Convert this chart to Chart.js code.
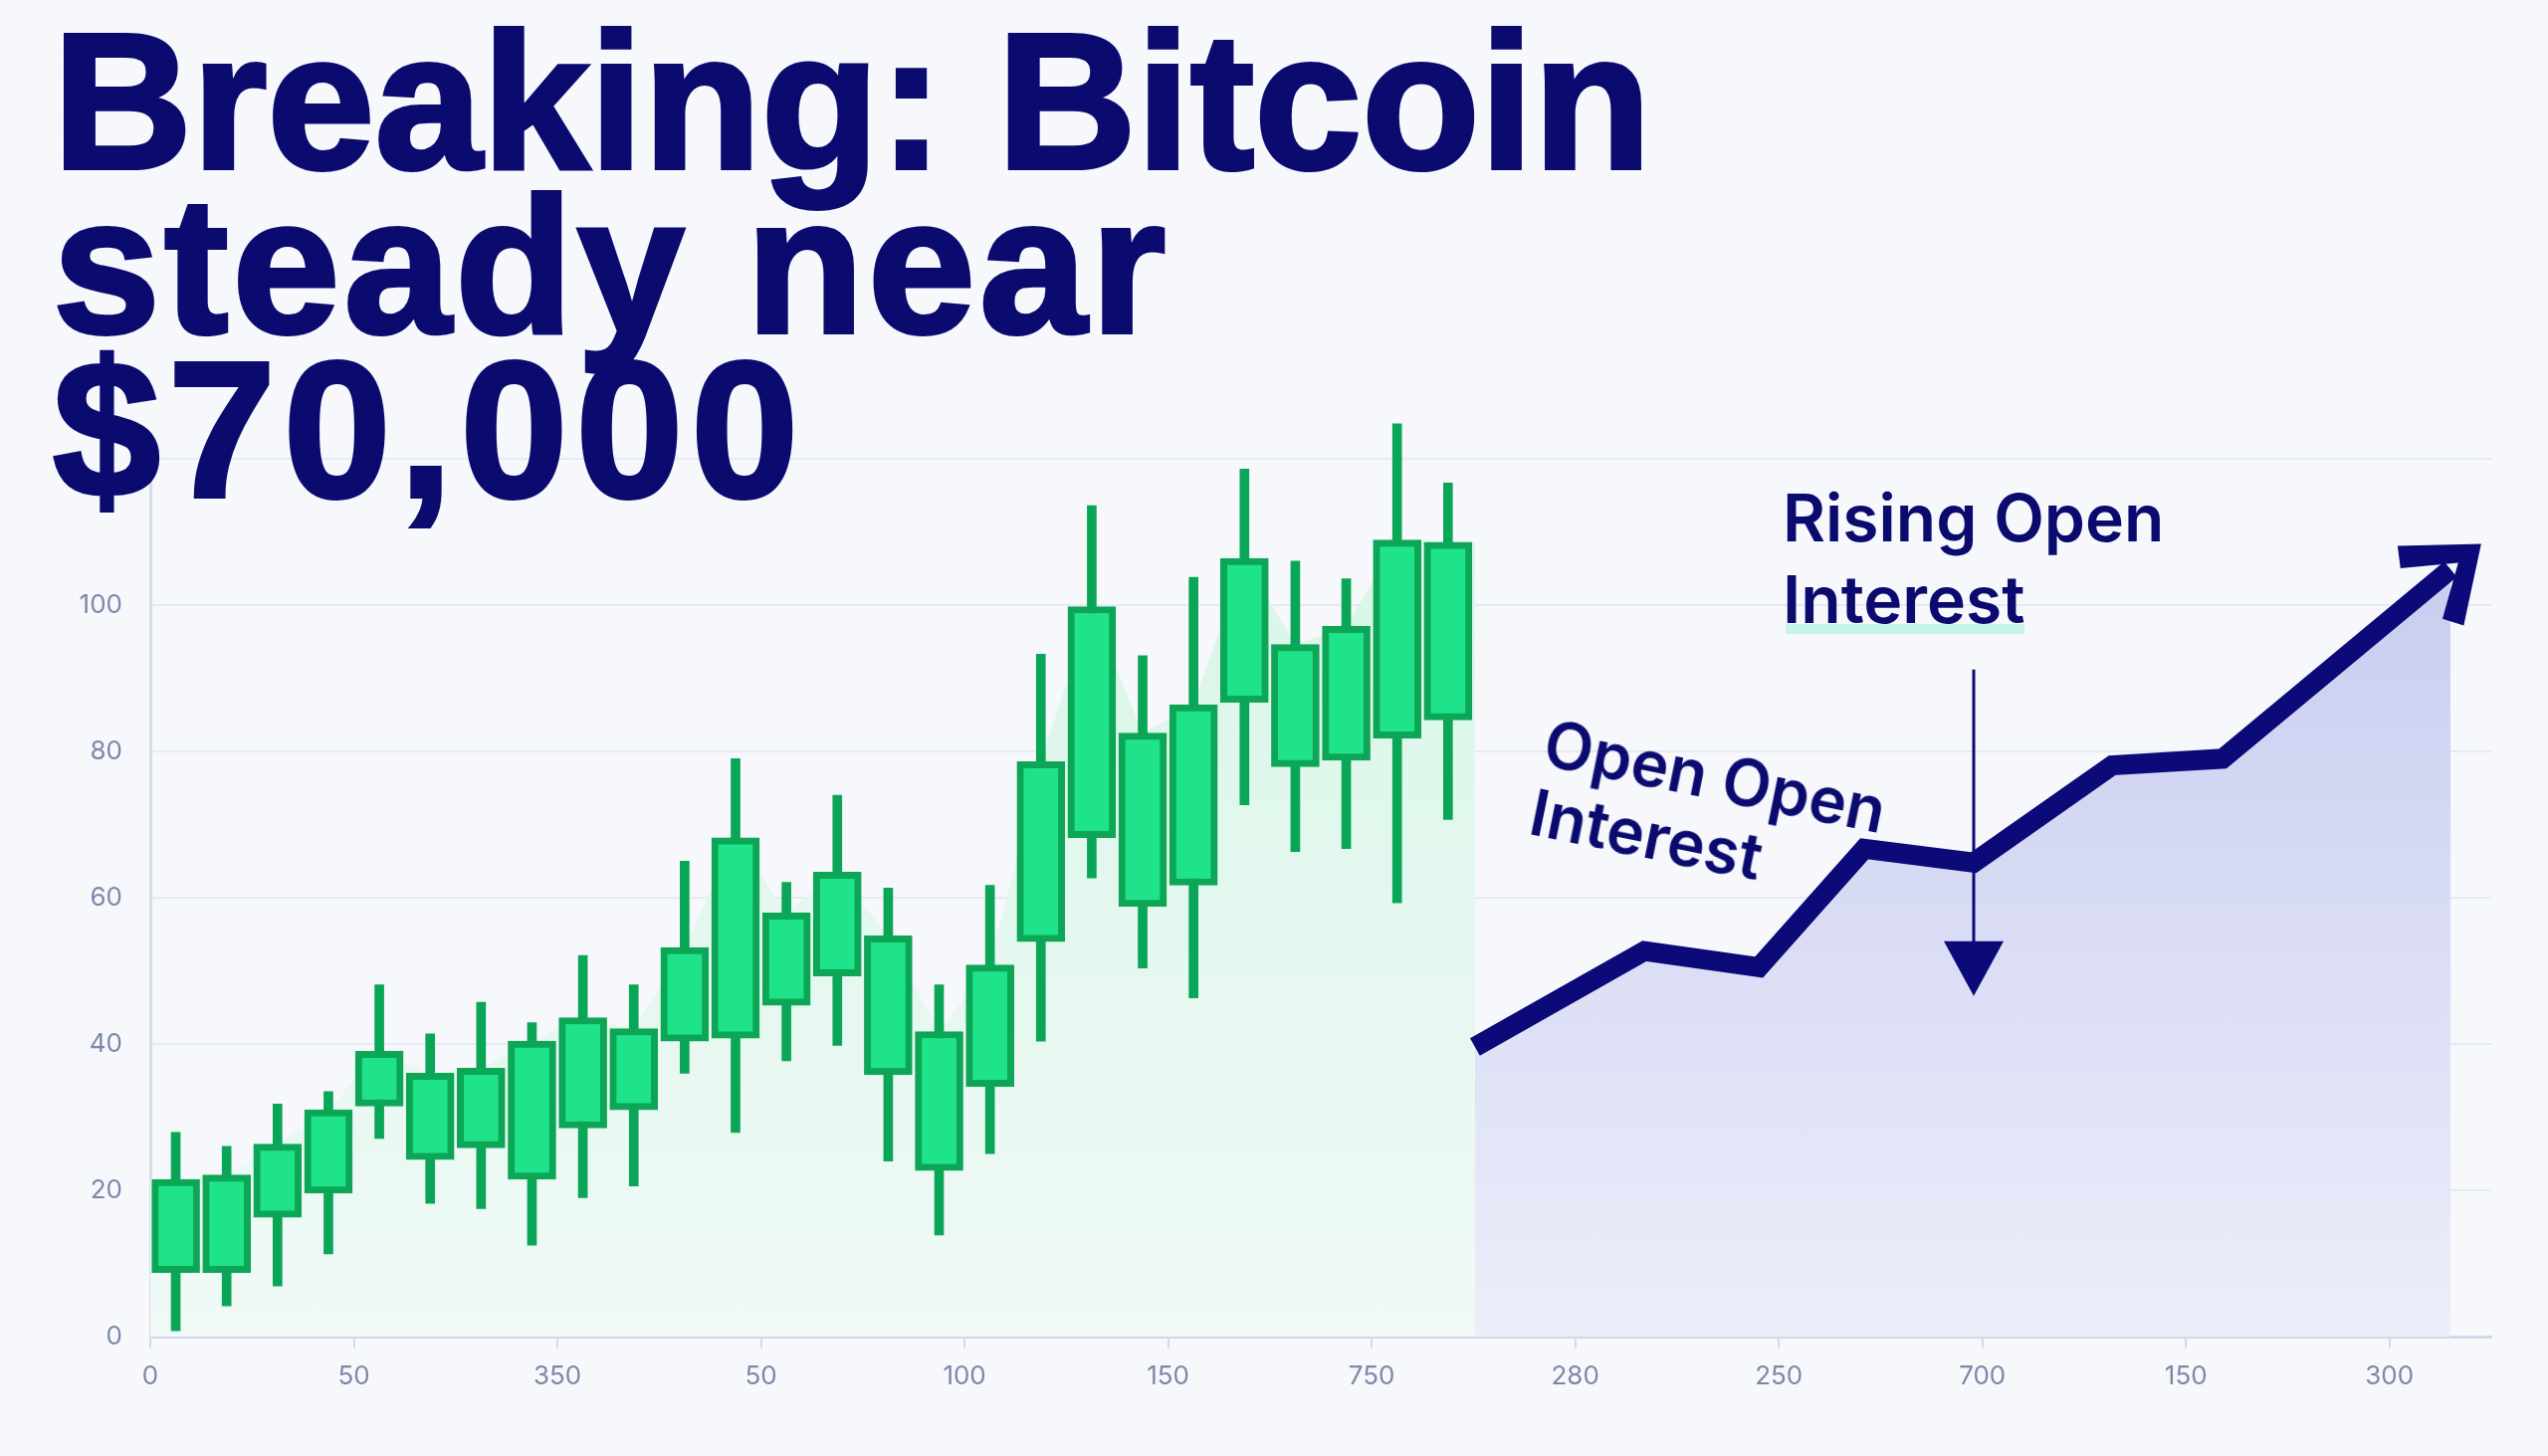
<!DOCTYPE html>
<html>
<head>
<meta charset="utf-8">
<script src="https://cdn.jsdelivr.net/npm/chart.js@4.4.1/dist/chart.umd.min.js"></script>
<style>
html,body{margin:0;padding:0;background:#f6f8fc;}
#wrap{position:relative;width:2560px;height:1463px;overflow:hidden;background:#f6f8fc;}
#c{position:absolute;left:0;top:0;}
.title{position:absolute;left:53px;top:19px;margin:0;font-family:'Liberation Sans',Arial,sans-serif;font-weight:700;font-size:194px;line-height:165px;color:#0b0b6f;white-space:nowrap;-webkit-text-stroke:4px #0b0b6f;}
.title div{display:block;}
.note{position:absolute;font-family:Inter,'Noto Sans',sans-serif;font-weight:600;color:#0b0b6f;white-space:nowrap;}
#rising{left:1791px;top:479px;font-size:66px;line-height:82px;}
#mint{position:absolute;left:1794px;top:627px;width:240px;height:10px;background:rgba(160,240,215,0.55);}
#oi{left:1548px;top:709px;font-size:64px;line-height:71px;transform:rotate(11.5deg);transform-origin:0 59px;}
</style>
</head>
<body>
<div id="wrap">
  <canvas id="c" width="2560" height="1463"></canvas>
  <h1 class="title"><div>Breaking: Bitcoin</div><div style="letter-spacing:4px">steady near</div><div style="letter-spacing:8px">$70,000</div></h1>
  <div id="mint"></div>
  <div class="note" id="rising">Rising Open<br>Interest</div>
  <div class="note" id="oi">Open Open<br>Interest</div>
</div>
<script>
// ---- data ----
const xTickValues = [0, 4, 8, 12, 16, 20, 24, 28, 32, 36, 40, 44];
const xTickLabels = ['0', '50', '350', '50', '100', '150', '750', '280', '250', '700', '150', '300'];
const yTickValues = [0, 20, 40, 60, 80, 100, 120];

const candleSlots = [0.5, 1.5, 2.5, 3.5, 4.5, 5.5, 6.5, 7.5, 8.5, 9.5, 10.5, 11.5, 12.5,
                     13.5, 14.5, 15.5, 16.5, 17.5, 18.5, 19.5, 20.5, 21.5, 22.5, 23.5, 24.5, 25.5];
const candleOpen  = [8.75, 8.75, 16.3, 19.6, 31.5, 24.2, 25.8, 21.5, 28.5, 31.0, 40.4, 40.8, 45.3,
                     49.3, 35.8, 22.7, 34.2, 54.0, 68.2, 58.8, 61.7, 86.7, 77.9, 78.8, 81.8, 84.3];
const candleClose = [21.5, 22.1, 26.3, 31.0, 39.0, 36.0, 36.7, 40.4, 43.6, 42.1, 53.2, 68.2, 57.9,
                     63.5, 54.8, 41.7, 50.8, 78.6, 99.8, 82.5, 86.4, 106.4, 94.6, 97.1, 108.9, 108.6];
const candleHigh  = [27.9, 26.0, 31.8, 33.5, 48.1, 41.4, 45.7, 42.9, 52.1, 48.1, 65.0, 79.0, 62.1,
                     74.0, 61.3, 48.1, 61.7, 93.3, 113.6, 93.1, 103.8, 118.6, 106.0, 103.6, 124.8, 116.7];
const candleLow   = [0.8, 4.2, 6.9, 11.3, 27.1, 18.2, 17.5, 12.5, 19.0, 20.6, 36.0, 27.9, 37.7,
                     39.8, 24.0, 13.9, 25.0, 40.4, 62.7, 50.4, 46.3, 72.7, 66.3, 66.7, 59.3, 70.7];

const oiX      = [26.03, 29.36, 31.61, 33.68, 35.83, 38.55, 40.72, 45.2];
const oiValues = [39.6, 52.7, 50.5, 66.7, 64.8, 78.1, 79.0, 104.9];

// ---- helpers ----
function vGrad(chart, c0, c1) {
  const {ctx, chartArea} = chart;
  if (!chartArea) return c0;
  const g = ctx.createLinearGradient(0, chartArea.top, 0, chartArea.bottom);
  g.addColorStop(0, c0);
  g.addColorStop(1, c1);
  return g;
}
const NAVY = '#0b0a78';

const greenArea = [{x: 0, y: candleClose[0]}]
  .concat(candleSlots.map((x, i) => ({x, y: candleClose[i]})))
  .concat([{x: oiX[0], y: candleClose[candleClose.length - 1]}]);

const arrowPlugin = {
  id: 'arrows',
  afterDatasetsDraw(chart) {
    const ctx = chart.ctx;
    const meta = chart.getDatasetMeta(2);
    const pts = meta.data;
    const a = pts[pts.length - 2], b = pts[pts.length - 1];
    const dx = b.x - a.x, dy = b.y - a.y, L = Math.hypot(dx, dy);
    const ux = dx / L, uy = dy / L, nx = -uy, ny = ux;
    const tx = b.x + ux * 40, ty = b.y + uy * 40;
    const P = (u, n) => [tx + ux * u + nx * n, ty + uy * u + ny * n];
    const poly = [P(0, 0), P(-66, -52), P(-78, -33), P(-30, 0), P(-78, 33), P(-66, 52)];
    ctx.save();
    ctx.fillStyle = NAVY;
    ctx.beginPath();
    poly.forEach((p, i) => i ? ctx.lineTo(p[0], p[1]) : ctx.moveTo(p[0], p[1]));
    ctx.closePath();
    ctx.fill();
    // vertical annotation arrow at the dip point
    const d = pts[4];
    const top = d.y - 194, tip = d.y + 134;
    ctx.strokeStyle = NAVY;
    ctx.lineWidth = 3;
    ctx.beginPath();
    ctx.moveTo(d.x, top);
    ctx.lineTo(d.x, tip - 50);
    ctx.stroke();
    ctx.beginPath();
    ctx.moveTo(d.x - 30, tip - 55);
    ctx.lineTo(d.x + 30, tip - 55);
    ctx.lineTo(d.x, tip);
    ctx.closePath();
    ctx.fill();
    ctx.restore();
  }
};

Chart.defaults.font.family = 'Inter, "Noto Sans", sans-serif';

new Chart(document.getElementById('c'), {
  type: 'bar',
  data: {
    datasets: [
      {
        type: 'bar', label: 'Body',
        data: candleSlots.map((x, i) => ({x, y: [candleOpen[i], candleClose[i]]})),
        backgroundColor: '#1fe38b', borderColor: '#0ca656', borderWidth: 7, borderSkipped: false,
        barThickness: 48, grouped: false, order: 0, clip: false
      },
      {
        type: 'bar', label: 'Wick',
        data: candleSlots.map((x, i) => ({x, y: [candleLow[i], candleHigh[i]]})),
        backgroundColor: '#0aa657', borderWidth: 0,
        barThickness: 9, grouped: false, order: 1, clip: false
      },
      {
        type: 'line', label: 'Open Interest',
        data: oiX.map((x, i) => ({x, y: oiValues[i]})),
        borderColor: NAVY, borderWidth: 20, borderJoinStyle: 'miter', borderCapStyle: 'butt',
        pointRadius: 0, tension: 0, fill: 'origin',
        backgroundColor: c => vGrad(c.chart, '#c4c8ee', '#eceefa'),
        order: 2, clip: false
      },
      {
        type: 'line', label: 'Price area',
        data: greenArea,
        borderWidth: 0, pointRadius: 0, tension: 0, fill: 'origin',
        backgroundColor: c => vGrad(c.chart, '#d6f6e6', '#f0f9f6'),
        order: 3
      }
    ]
  },
  options: {
    responsive: false,
    devicePixelRatio: 1,
    animation: false,
    layout: {padding: {top: 461, right: 57, left: 0, bottom: 0}},
    plugins: {legend: {display: false}, tooltip: {enabled: false}, title: {display: false}},
    scales: {
      x: {
        type: 'linear', min: 0, max: 46, offset: false,
        afterFit: s => { s.height = 120; },
        afterBuildTicks: s => { s.ticks = xTickValues.map(v => ({value: v})); },
        grid: {drawOnChartArea: false, offset: false, drawTicks: true, tickLength: 12, color: '#d3dbea', lineWidth: 2},
        border: {display: true, color: '#d0d9ea', width: 3},
        ticks: {padding: 13, color: '#7d88a9', font: {size: 26}, maxRotation: 0, autoSkip: false,
                callback: (v, i) => xTickLabels[i]}
      },
      y: {
        type: 'linear', min: 0, max: 120,
        afterFit: s => { s.width = 151; },
        afterBuildTicks: s => { s.ticks = yTickValues.map(v => ({value: v})); },
        grid: {color: '#e5eaf3', lineWidth: 2, drawTicks: false},
        border: {display: true, color: '#d5dcea', width: 3},
        ticks: {padding: 28, color: '#7d88a9', font: {size: 26},
                callback: v => (v === 120 ? '' : String(v))}
      }
    }
  },
  plugins: [arrowPlugin]
});
</script>
</body>
</html>
